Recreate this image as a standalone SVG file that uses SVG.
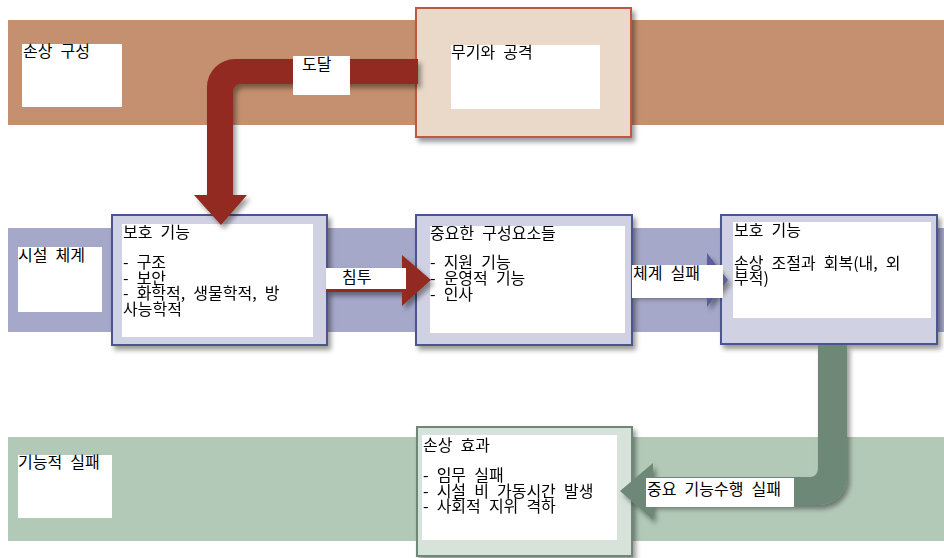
<svg xmlns="http://www.w3.org/2000/svg" width="944" height="558" viewBox="0 0 944 558">
<style>
.t{font-family:"Noto Sans CJK KR","Noto Sans",sans-serif;font-size:16px;word-spacing:4.5px;fill:#000}
.w{fill:#fff}
.nb{fill:#D0D1E2;stroke:#4E5590;stroke-width:2}
.nr{fill:#EAD8C8;stroke:#C0583E;stroke-width:2}
.ng{fill:#D7E3DA;stroke:#6E8878;stroke-width:2}
</style>
<defs>
<filter id="sh" x="-10%" y="-10%" width="130%" height="130%">
<feDropShadow dx="3" dy="4" stdDeviation="2.5" flood-color="#000" flood-opacity="0.4"/>
</filter>
</defs>
<g id="bands">
<rect x="8" y="20" width="936" height="105" fill="#C4906F"/>
<rect x="8" y="228" width="936" height="104" fill="#A6A8CA"/>
<rect x="8" y="437" width="936" height="104" fill="#B3C9B8"/>
</g>
<g id="band-label-1">
<rect class="w" x="22" y="44" width="100" height="63"/>
<text class="t" x="23" y="57">손상 구성</text>
</g>
<g id="band-label-2">
<rect class="w" x="18" y="247" width="84" height="65"/>
<text class="t" x="18" y="261">시설 체계</text>
</g>
<g id="band-label-3">
<rect class="w" x="18" y="455" width="94" height="63"/>
<text class="t" x="18" y="468">기능적 실패</text>
</g>
<g id="node-weapons" filter="url(#sh)">
<rect class="nr" x="416" y="8" width="215" height="129"/>
<rect class="w" x="451" y="45" width="149" height="64"/>
<text class="t" x="451" y="58">무기와 공격</text>
</g>
<g id="node-protect1" filter="url(#sh)">
<rect class="nb" x="112" y="215" width="215" height="130"/>
<rect class="w" x="122" y="224" width="191" height="113"/>
<text class="t" x="123" y="238">보호 기능<tspan x="123" y="267.5">- 구조</tspan><tspan x="123" y="283.5">- 보안</tspan><tspan x="123" y="299">- 화학적, 생물학적, 방</tspan><tspan x="123" y="314.5">사능학적</tspan></text>
</g>
<g id="node-critical" filter="url(#sh)">
<rect class="nb" x="416" y="215" width="216" height="130"/>
<rect class="w" x="430" y="226" width="195" height="107"/>
<text class="t" x="430" y="239">중요한 구성요소들<tspan x="430" y="268">- 지원 기능</tspan><tspan x="430" y="284">- 운영적 기능</tspan><tspan x="430" y="300">- 인사</tspan></text>
</g>
<g id="node-protect2" filter="url(#sh)">
<rect class="nb" x="721" y="215" width="216" height="129"/>
<rect class="w" x="733" y="222" width="198" height="96"/>
<text class="t" x="734" y="236">보호 기능<tspan x="734" y="268.5">손상 조절과 회복(내, 외</tspan><tspan x="734" y="284">부적)</tspan></text>
</g>
<g id="node-effects" filter="url(#sh)">
<rect class="ng" x="417" y="427" width="215" height="129"/>
<rect class="w" x="422" y="435" width="195" height="105"/>
<text class="t" x="423" y="451">손상 효과<tspan x="423" y="480.5">- 임무 실패</tspan><tspan x="423" y="496.5">- 시설 비 가동시간 발생</tspan><tspan x="423" y="512">- 사회적 지위 격하</tspan></text>
</g>
<g id="connectors">
<path filter="url(#sh)" fill="#922A22" d="M418,59 H235 A28,28 0 0 0 207,87 V195 H194 L221,225 L247,195 H233 V92 A8,8 0 0 1 241,84 H418 Z"/>
<path filter="url(#sh)" fill="#922A22" d="M326,268 H402 V255 L431,280 L402,306 V292 H326 Z"/>
<path filter="url(#sh)" fill="#5A5E9A" d="M632,266 H707 V253 L728,280 L707,307 V295 H632 Z"/>
<path filter="url(#sh)" fill="#6E8878" d="M818,345 H847 V477 A28,28 0 0 1 819,505 H653 V520 L620,491 L653,463 V477 H810 A8,8 0 0 0 818,469 Z"/>
<rect class="w" x="293" y="56" width="57" height="39"/>
<text class="t" x="302" y="70">도달</text>
<rect class="w" x="326" y="268" width="80" height="21"/>
<text class="t" x="342" y="283">침투</text>
<rect class="w" x="632" y="265" width="91" height="33"/>
<text class="t" x="633" y="279">체계 실패</text>
<rect class="w" x="646" y="478" width="148" height="29"/>
<text class="t" x="647" y="495">중요 기능수행 실패</text>
</g>
</svg>
